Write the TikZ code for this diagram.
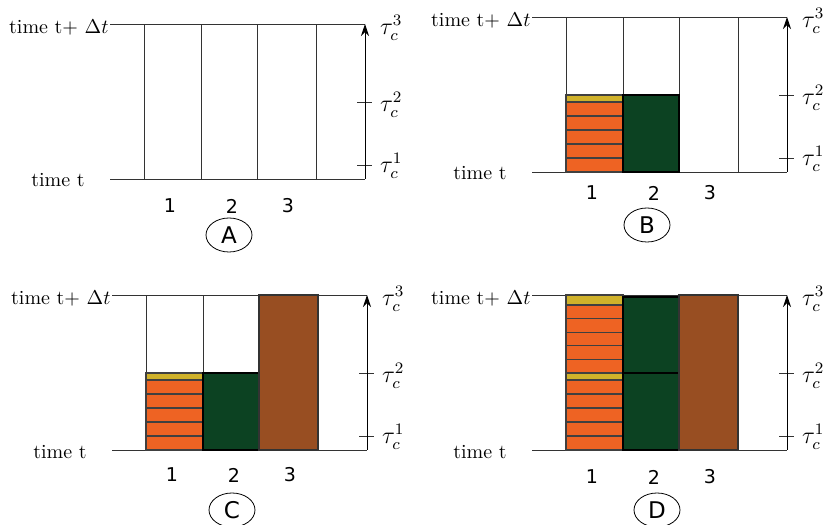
\documentclass[tikz,border=0pt]{standalone}
\usepackage{amsmath}
\usepackage{fontspec}
\newfontfamily\labelfont{DejaVu Sans}
\usetikzlibrary{shapes,arrows.meta,positioning}
\definecolor{brick}{RGB}{238,99,35}
\definecolor{ochre}{RGB}{208,178,42}
\definecolor{pine}{RGB}{12,66,34}
\definecolor{rust}{RGB}{152,78,34}

\begin{document}
\begin{tikzpicture}[x=0.5pt, y=0.5pt,
    frame/.style={draw=black!80, line width=0.45pt},
    stripe/.style={draw=black!75, fill=brick, line width=0.6pt},
    goldband/.style={draw=black!75, fill=ochre, line width=0.6pt},
    block/.style={draw=black, fill=pine, line width=0.7pt},
    slab/.style={draw=black!80, fill=rust, line width=0.6pt},
    taulabel/.style={anchor=west, font=\fontsize{11.5}{13}\selectfont},
    colnum/.style={font=\labelfont\fontsize{9.5}{11}\selectfont},
    tag/.style={draw, ellipse, minimum width=23pt, minimum height=17pt, inner sep=0pt, font=\labelfont\fontsize{11.5}{13}\selectfont}]
    \useasboundingbox (0,0) rectangle (823,524);

    % the four time windows
    \foreach \p/\ox/\oy/\ny/\tx/\ty in {A/144/345/-27/85/-56, B/566/352/-21/81/-53, C/146/74/-25/86/-60, D/566/74/-27/91/-60} {
        \begin{scope}[shift={(\ox,\oy)}]
            \draw[frame] (-34,0) -- (221,0);
            \draw[frame] (-34,155) -- (221,155);
            \foreach \c in {0,57,113,172} \draw[frame] (\c,0) -- (\c,155);
            \draw[frame] (213,14) -- (228,14);
            \draw[frame] (213,77) -- (228,77);
            \coordinate (base\p) at (221,0);
            \coordinate (top\p) at (221,155);
            \draw[frame, draw=black, -{Stealth[length=6pt, width=4pt]}] (base\p) -- (top\p);
            \node[anchor=base east, inner sep=1pt] (late\p) at (-33,145) {time t+ $\Delta t$};
            \node[anchor=base east, inner sep=1pt] (early\p) at (-57,-8) {time t};
            \node[taulabel] (tauthree\p) at (229,151) {$\tau_c^3$};
            \node[taulabel] (tautwo\p) at (229,74) {$\tau_c^2$};
            \node[taulabel] (tauone\p) at (229,13) {$\tau_c^1$};
            \node[colnum] (one\p) at (26,\ny) {1};
            \node[colnum] (two\p) at (88,\ny) {2};
            \node[colnum] (three\p) at (144,\ny) {3};
            \node[tag] (tag\p) at (\tx,\ty) {\p};
        \end{scope}
    }

    % B
    \begin{scope}[shift={(566,352)}]
        \foreach \i in {0,...,4} \draw[stripe] (0,\i*14) rectangle (57,\i*14+14);
        \draw[goldband] (0,70) rectangle (57,77);
        \draw[block] (57,0) rectangle (113,77);
    \end{scope}

    % C
    \begin{scope}[shift={(146,74)}]
        \foreach \i in {0,...,4} \draw[stripe] (0,\i*14) rectangle (57,\i*14+14);
        \draw[goldband] (0,70) rectangle (57,77);
        \draw[block] (57,0) rectangle (113,77);
        \draw[slab] (113,0) rectangle (172,155);
    \end{scope}

    % D
    \begin{scope}[shift={(566,74)}]
        \foreach \i in {0,...,4} \draw[stripe] (0,\i*14) rectangle (57,\i*14+14);
        \draw[goldband] (0,70) rectangle (57,77);
        \foreach \i in {0,...,4} \draw[stripe] (0,77+\i*13.6) rectangle (57,90.6+\i*13.6);
        \draw[goldband] (0,145) rectangle (57,155);
        \draw[block] (57,0) rectangle (113,77);
        \draw[block] (57,77) rectangle (113,153);
        \draw[slab] (113,0) rectangle (172,155);
    \end{scope}
\end{tikzpicture}
\end{document}
